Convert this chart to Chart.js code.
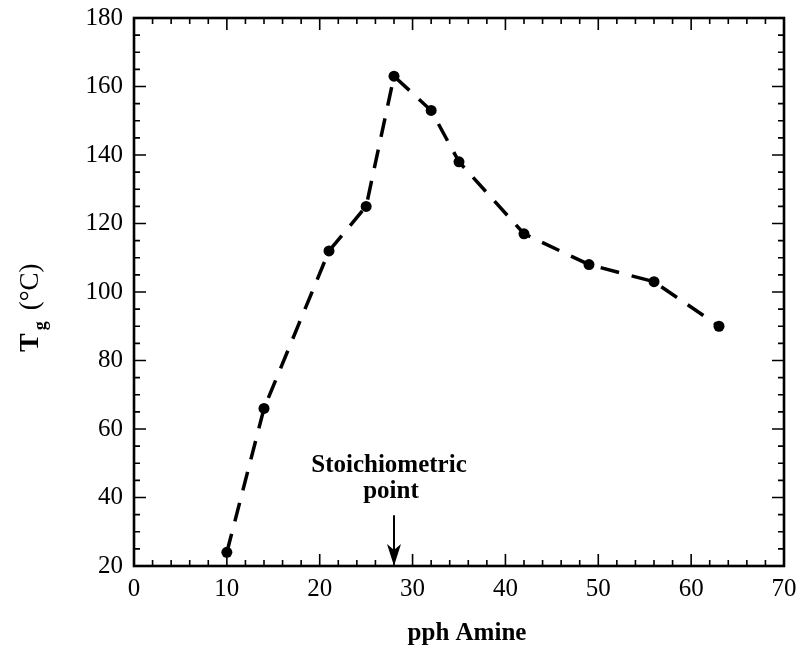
<!DOCTYPE html>
<html>
<head>
<meta charset="utf-8">
<script src="https://cdn.jsdelivr.net/npm/chart.js@4/dist/chart.umd.min.js"></script>
<style>
  html, body { margin: 0; padding: 0; background: #fff; }
  #wrap { width: 804px; height: 651px; }
</style>
</head>
<body>
<div id="wrap"><canvas id="chart" width="804" height="651"></canvas></div>
<script>
// values
const amine = [10, 14, 21, 25, 28, 32, 35, 42, 49, 56, 63];
const tg = [24, 66, 112, 125, 163, 153, 138, 117, 108, 103, 90];
const xTickLabels = [0, 10, 20, 30, 40, 50, 60, 70];
const yTickLabels = [20, 40, 60, 80, 100, 120, 140, 160, 180];
const stoichX = 28;

const serif = "'Liberation Serif', 'Times New Roman', serif";

// box and inward ticks on all four sides
const frameTicks = {
    id: "frameTicks",
    afterDatasetsDraw(chart) {
        const ctx = chart.ctx;
        const a = chart.chartArea;
        const x = chart.scales.x;
        const y = chart.scales.y;
        ctx.save();
        ctx.strokeStyle = "#000";
        ctx.lineWidth = 1.6;
        for (let v = x.min; v <= x.max; v += 2) {
            const p = x.getPixelForValue(v);
            const len = v % 10 === 0 ? 12 : 6;
            ctx.beginPath();
            ctx.moveTo(p, a.bottom); ctx.lineTo(p, a.bottom - len);
            ctx.moveTo(p, a.top); ctx.lineTo(p, a.top + len);
            ctx.stroke();
        }
        for (let v = y.min; v <= y.max; v += 5) {
            const p = y.getPixelForValue(v);
            const len = v % 20 === 0 ? 12 : 6;
            ctx.beginPath();
            ctx.moveTo(a.left, p); ctx.lineTo(a.left + len, p);
            ctx.moveTo(a.right, p); ctx.lineTo(a.right - len, p);
            ctx.stroke();
        }
        ctx.lineWidth = 2.6;
        ctx.strokeRect(a.left, a.top, a.right - a.left, a.bottom - a.top);
        ctx.restore();
    }
};

// axis titles, and the stoichiometric arrow
const extras = {
    id: "extras",
    afterDraw(chart) {
        const ctx = chart.ctx;
        const a = chart.chartArea;
        const x = chart.scales.x;
        const y = chart.scales.y;
        ctx.save();
        ctx.fillStyle = "#000";

        // x title
        ctx.textAlign = "center";
        ctx.textBaseline = "middle";
        ctx.font = "bold 25px " + serif;
        ctx.fillText("pph Amine", (a.left + a.right) / 2 + 8, 634);

        // rotated "Tg (°C)"
        ctx.translate(38, 352);
        ctx.rotate(-Math.PI / 2);
        ctx.textBaseline = "alphabetic";
        ctx.textAlign = "left";
        ctx.font = "bold 28px " + serif;
        ctx.fillText("T", 0, 0);
        let w = ctx.measureText("T").width;
        ctx.font = "bold 18px " + serif;
        ctx.fillText("g", w + 3, 8);
        w += ctx.measureText("g").width + 14;
        ctx.font = "27px " + serif;
        ctx.fillText("(°C)", w, 0);
        ctx.setTransform(1, 0, 0, 1, 0, 0);

        // arrow
        const px = x.getPixelForValue(stoichX);
        const tip = y.getPixelForValue(20);
        const top = y.getPixelForValue(34.8);
        ctx.strokeStyle = "#000";
        ctx.lineWidth = 2;
        ctx.beginPath();
        ctx.moveTo(px, top);
        ctx.lineTo(px, tip - 12);
        ctx.stroke();
        ctx.beginPath();
        ctx.moveTo(px, tip);
        ctx.lineTo(px - 7, tip - 22);
        ctx.lineTo(px, tip - 16);
        ctx.lineTo(px + 7, tip - 22);
        ctx.closePath();
        ctx.fill();

        ctx.textAlign = "center";
        ctx.textBaseline = "middle";
        ctx.font = "bold 25px " + serif;
        ctx.fillText("Stoichiometric", px - 5, top - 50);
        ctx.fillText("point", px - 3, top - 24);
        ctx.restore();
    }
};

const createChart = (xs, ys) => {
    let data = {
        datasets: [{
            label: "Tg",
            data: xs.map((v, i) => ({ x: v, y: ys[i] })),
            showLine: true,
            borderColor: "#000",
            borderWidth: 3.5,
            borderDash: [19, 13],
            backgroundColor: "#000",
            pointRadius: 5.5,
            pointHoverRadius: 5.5,
            pointBorderWidth: 0
        }]
    };

    let options = {
        responsive: false,
        animation: false,
        events: [],
        layout: { padding: { left: 0, right: 20, top: 15, bottom: 0 } },
        plugins: { legend: { display: false }, tooltip: { enabled: false } },
        scales: {
            x: {
                type: "linear",
                min: 0,
                max: 70,
                grid: { display: false },
                border: { display: false },
                afterBuildTicks: (s) => { s.ticks = xTickLabels.map(v => ({ value: v })); },
                afterFit: (s) => { s.height = 85; },
                ticks: {
                    color: "#000",
                    padding: 0,
                    maxRotation: 0,
                    font: { family: serif, size: 25 }
                }
            },
            y: {
                type: "linear",
                min: 20,
                max: 180,
                grid: { display: false },
                border: { display: false },
                afterBuildTicks: (s) => { s.ticks = yTickLabels.map(v => ({ value: v })); },
                afterFit: (s) => { s.width = 134; },
                ticks: {
                    color: "#000",
                    padding: 3,
                    font: { family: serif, size: 25 }
                }
            }
        }
    };

    new Chart("chart", {
        type: "scatter",
        data: data,
        options: options,
        plugins: [frameTicks, extras]
    });
};

createChart(amine, tg);
</script>
</body>
</html>
